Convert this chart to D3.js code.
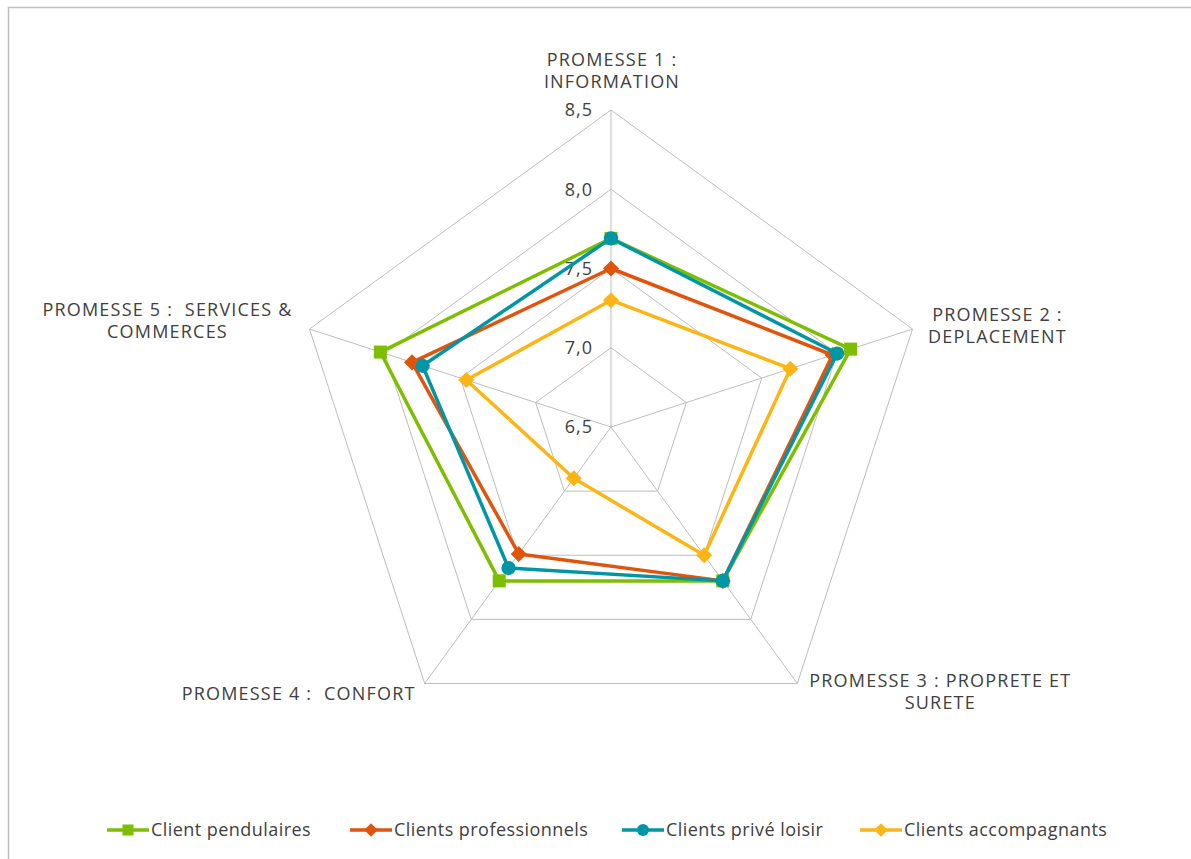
<!DOCTYPE html>
<html><head><meta charset="utf-8">
<script src="https://cdn.jsdelivr.net/npm/d3@7"></script>
<style>
html,body{margin:0;padding:0;background:#fff;}
svg text{font-family:"Open Sans","Noto Sans",sans-serif;fill:#404040;white-space:pre;}
</style></head>
<body><svg id="c" width="1191" height="859"></svg>
<script>
const categories = [
  ["PROMESSE 1 :", "INFORMATION"],
  ["PROMESSE 2 :", "DEPLACEMENT"],
  ["PROMESSE 3 : PROPRETE ET", "SURETE"],
  ["PROMESSE 4 :  CONFORT"],
  ["PROMESSE 5 :  SERVICES &", "COMMERCES"]
];
const seriesNames = ["Client pendulaires", "Clients professionnels", "Clients privé loisir", "Clients accompagnants"];
const pendulaires     = [7.69, 8.09, 7.70, 7.70, 8.03];
const professionnels  = [7.50, 7.97, 7.70, 7.49, 7.82];
const priveLoisir     = [7.69, 8.00, 7.70, 7.60, 7.75];
const accompagnants   = [7.30, 7.69, 7.50, 6.90, 7.46];
const tickValues = [6.5, 7.0, 7.5, 8.0, 8.5];
const tickLabels = ["6,5", "7,0", "7,5", "8,0", "8,5"];

const seriesData = [pendulaires, professionnels, priveLoisir, accompagnants];
const colors = ["#7DBE00", "#E0540C", "#0096A6", "#FDB515"];
const markers = ["square", "diamond", "circle", "diamond"];

const svg = d3.select("#c");
const cx = 611, cy = 427;
const r = d3.scaleLinear().domain([6.5, 8.5]).range([0, 317]);
const n = categories.length;
const ang = i => (-90 + 72 * i) * Math.PI / 180;
const pt = (i, v) => [cx + r(v) * Math.cos(ang(i)), cy + r(v) * Math.sin(ang(i))];
const FS = "18px";

// border
svg.append("rect").attr("x", 8.5).attr("y", 7.5).attr("width", 1200).attr("height", 900)
  .attr("fill", "none").attr("stroke", "#bfbfbf").attr("stroke-width", 1.5);

const grid = svg.append("g");
tickValues.slice(1).forEach(t => {
  grid.append("polygon")
    .attr("points", d3.range(n).map(i => pt(i, t).join(",")).join(" "))
    .attr("fill", "none").attr("stroke", "#bdbdbd").attr("stroke-width", 1);
});
d3.range(n).forEach(i => {
  const [x, y] = pt(i, 8.5);
  grid.append("line").attr("x1", cx).attr("y1", cy).attr("x2", x).attr("y2", y)
    .attr("stroke", "#bdbdbd").attr("stroke-width", 1);
});

// tick labels
tickValues.forEach((t, k) => {
  svg.append("text").attr("x", cx - 18).attr("y", cy - r(t))
    .attr("dy", "0.36em").attr("text-anchor", "end")
    .style("font-size", FS).style("letter-spacing", "1px").text(tickLabels[k]);
});

// category labels
const labelOffsets = [
  {dx: 1, dy: -44, anchor: "middle"},
  {dx: 85, dy: -8, anchor: "middle"},
  {dx: 143, dy: 4, anchor: "middle"},
  {dx: -9, dy: 17, anchor: "end"},
  {dx: -142, dy: -13, anchor: "middle"}
];
categories.forEach((lines, i) => {
  const [x, y] = pt(i, 8.5);
  const o = labelOffsets[i];
  const t = svg.append("text").attr("x", x + o.dx).attr("y", y + o.dy)
    .attr("text-anchor", o.anchor).style("font-size", FS).style("letter-spacing", "1.2px");
  lines.forEach((l, j) => t.append("tspan").attr("x", x + o.dx).attr("dy", j === 0 ? 0 : 22).text(l));
});

function drawMarker(g, type, x, y, color, s) {
  if (type === "square") {
    g.append("rect").attr("x", x - s * 0.5).attr("y", y - s * 0.5).attr("width", s).attr("height", s).attr("fill", color);
  } else if (type === "circle") {
    g.append("circle").attr("cx", x).attr("cy", y).attr("r", s * 0.55).attr("fill", color);
  } else {
    const h = s * 0.62;
    g.append("polygon").attr("points", [[x, y - h], [x + h, y], [x, y + h], [x - h, y]].map(p => p.join(",")).join(" ")).attr("fill", color);
  }
}

const line = d3.line().curve(d3.curveLinearClosed);
seriesData.forEach((vals, s) => {
  const g = svg.append("g");
  const pts = vals.map((v, i) => pt(i, v));
  g.append("path").attr("d", line(pts)).attr("fill", "none")
    .attr("stroke", colors[s]).attr("stroke-width", 3.5).attr("stroke-linejoin", "round");
  pts.forEach(p => drawMarker(g, markers[s], p[0], p[1], colors[s], 13));
});

// legend
const legX = [107, 350, 622, 860];
seriesNames.forEach((name, s) => {
  const g = svg.append("g").attr("transform", `translate(${legX[s]},830)`);
  g.append("line").attr("x1", 0).attr("x2", 42).attr("y1", 0).attr("y2", 0)
    .attr("stroke", colors[s]).attr("stroke-width", 3.5);
  drawMarker(g, markers[s], 21, 0, colors[s], 11);
  g.append("text").attr("x", 44).attr("y", 0).attr("dy", "0.36em").style("font-size", FS)
    .style("letter-spacing", "0.45px").text(name);
});
</script></body></html>
